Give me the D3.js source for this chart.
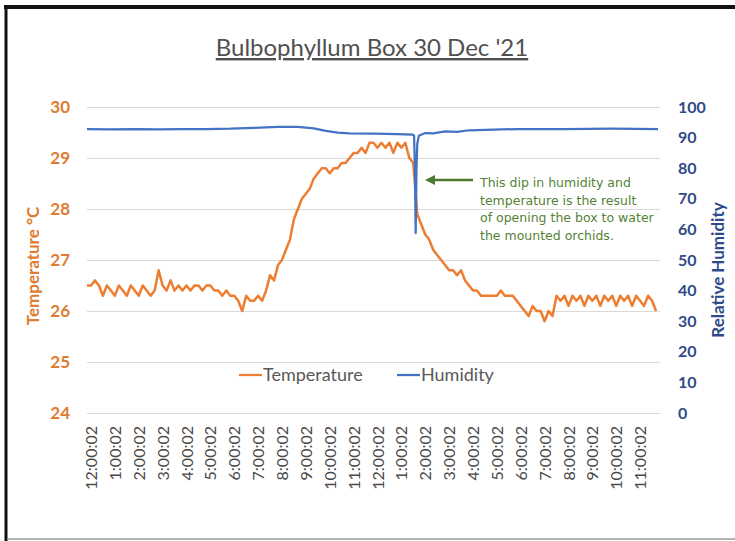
<!DOCTYPE html>
<html>
<head>
<meta charset="utf-8">
<script src="https://cdn.jsdelivr.net/npm/d3@7"></script>
<style>
  html, body { margin: 0; padding: 0; background: #ffffff; }
  svg { display: block; }
</style>
</head>
<body>
<svg id="drawing_region"></svg>
<script>
// hourly tick labels along the bottom
const hourLabels = ["12:00:02","1:00:02","2:00:02","3:00:02","4:00:02","5:00:02",
    "6:00:02","7:00:02","8:00:02","9:00:02","10:00:02","11:00:02",
    "12:00:02","1:00:02","2:00:02","3:00:02","4:00:02","5:00:02",
    "6:00:02","7:00:02","8:00:02","9:00:02","10:00:02","11:00:02"];

// temperature, one reading every 10 minutes starting at midnight
const temperature = [
    26.5, 26.5, 26.6, 26.5, 26.3, 26.5,
    26.4, 26.3, 26.5, 26.4, 26.3, 26.5,
    26.4, 26.3, 26.5, 26.4, 26.3, 26.4,
    26.8, 26.5, 26.4, 26.6, 26.4, 26.5,
    26.4, 26.5, 26.4, 26.5, 26.5, 26.4,
    26.5, 26.5, 26.4, 26.4, 26.3, 26.4,
    26.3, 26.3, 26.2, 26.0, 26.3, 26.2,
    26.2, 26.3, 26.2, 26.4, 26.7, 26.6,
    26.9, 27.0, 27.2, 27.4, 27.8, 28.0,
    28.2, 28.3, 28.4, 28.6, 28.7, 28.8,
    28.8, 28.7, 28.8, 28.8, 28.9, 28.9,
    29.0, 29.1, 29.1, 29.2, 29.1, 29.3,
    29.3, 29.2, 29.3, 29.2, 29.3, 29.1,
    29.3, 29.2, 29.3, 29.0, 28.9, 27.9,
    27.7, 27.5, 27.4, 27.2, 27.1, 27.0,
    26.9, 26.8, 26.8, 26.7, 26.8, 26.6,
    26.5, 26.4, 26.4, 26.3, 26.3, 26.3,
    26.3, 26.3, 26.4, 26.3, 26.3, 26.3,
    26.2, 26.1, 26.0, 25.9, 26.1, 26.0,
    26.0, 25.8, 26.0, 25.9, 26.3, 26.2,
    26.3, 26.1, 26.3, 26.2, 26.3, 26.1,
    26.3, 26.2, 26.3, 26.1, 26.3, 26.2,
    26.3, 26.1, 26.3, 26.2, 26.3, 26.1,
    26.3, 26.2, 26.1, 26.3, 26.2, 26.0
];

// humidity read at these minutes after midnight
const humidityMinutes = [0, 60, 120, 180, 240, 300, 360, 420, 480, 530, 570, 600, 630, 660,
    720, 780, 818, 822, 824, 826, 828, 830, 834, 850, 870, 900, 930, 960, 1000, 1080,
    1200, 1320, 1435];
const humidity = [92.8, 92.7, 92.8, 92.7, 92.8, 92.8, 92.9, 93.2, 93.5, 93.5, 93.0, 92.2, 91.6, 91.4,
    91.3, 91.1, 91.0, 90.6, 80.0, 58.8, 80.0, 88.0, 90.6, 91.5, 91.4, 92.0, 91.9, 92.4, 92.5, 92.8,
    92.8, 92.9, 92.8];

const tempTicks = [24, 25, 26, 27, 28, 29, 30];
const humTicks = [0, 10, 20, 30, 40, 50, 60, 70, 80, 90, 100];

const noteLines = ["This dip in humidity and", "temperature is the result",
    "of opening the box to water", "the mounted orchids."];

class DualAxisChart {

    constructor( config ) {
        this.config = {
            parent: config.parent,
            width: config.width || 735,
            height: config.height || 541,
            left: 87, right: 660, top: 107, bottom: 413
        };
        this.init();
    }

    init() {
        let self = this;
        self.svg = d3.select( self.config.parent )
            .attr( 'width', self.config.width )
            .attr( 'height', self.config.height );

        self.xscale = d3.scaleLinear()
            .domain( [0, 1440] )
            .range( [self.config.left, self.config.right] );
        self.tscale = d3.scaleLinear()
            .domain( [24, 30] )
            .range( [self.config.bottom, self.config.top] );
        self.hscale = d3.scaleLinear()
            .domain( [0, 100] )
            .range( [self.config.bottom, self.config.top] );
    }

    render() {
        let self = this;
        const orange = '#ED7D31', blue = '#4472C4';
        const orangeText = '#E07B2F', blueText = '#2F4A8A', grey = '#595959';

        // frame of the screenshot
        self.svg.append('rect').attr('x', 0).attr('y', 0)
            .attr('width', self.config.width).attr('height', self.config.height)
            .attr('fill', '#fff');
        self.svg.append('line').attr('x1', 4).attr('x2', 735).attr('y1', 7).attr('y2', 7)
            .attr('stroke', '#111').attr('stroke-width', 4);
        self.svg.append('line').attr('x1', 6).attr('x2', 6).attr('y1', 5).attr('y2', 541)
            .attr('stroke', '#111').attr('stroke-width', 3);
        self.svg.append('line').attr('x1', 8).attr('x2', 735).attr('y1', 539).attr('y2', 539)
            .attr('stroke', '#999').attr('stroke-width', 1.5);

        // title
        self.svg.append('text')
            .attr('x', 372).attr('y', 56)
            .attr('text-anchor', 'middle')
            .attr('font-family', 'Lato, sans-serif')
            .attr('font-size', 24)
            .attr('fill', '#505050')
            .style('text-decoration', 'underline')
            .text("Bulbophyllum Box 30 Dec '21");

        // left axis with grid
        const leftAxis = d3.axisLeft( self.tscale ).tickValues( tempTicks ).tickFormat( d3.format('d') )
            .tickSize( 0 ).tickPadding( 17 );
        const lg = self.svg.append('g').attr('transform', `translate(${self.config.left},0)`).call( leftAxis );
        lg.select('.domain').remove();
        lg.selectAll('text').attr('font-family', 'Lato, sans-serif').attr('font-size', 17)
            .attr('font-weight', 'bold').attr('fill', orangeText);
        lg.selectAll('.tick').append('line')
            .attr('x1', 0).attr('x2', self.config.right - self.config.left)
            .attr('stroke', '#D9D9D9').attr('stroke-width', 1);

        // right axis
        const rightAxis = d3.axisRight( self.hscale ).tickValues( humTicks ).tickSize( 0 ).tickPadding( 18 );
        const rg = self.svg.append('g').attr('transform', `translate(${self.config.right},0)`).call( rightAxis );
        rg.select('.domain').remove();
        rg.selectAll('text').attr('font-family', 'Lato, sans-serif').attr('font-size', 16)
            .attr('font-weight', 'bold').attr('fill', blueText);

        // bottom axis with hour labels
        const xAxis = d3.axisBottom( self.xscale )
            .tickValues( d3.range( hourLabels.length ).map( i => i * 60 ) )
            .tickFormat( (d, i) => hourLabels[i] )
            .tickSize( 0 );
        const xg = self.svg.append('g').attr('transform', `translate(0,${self.config.bottom})`).call( xAxis );
        xg.select('.domain').attr('stroke', '#D9D9D9');
        xg.selectAll('text')
            .attr('font-family', 'Lato, sans-serif').attr('font-size', 16)
            .attr('fill', '#4a4a4a')
            .attr('text-anchor', 'end')
            .attr('transform', 'rotate(-90)')
            .attr('x', -13).attr('y', 4).attr('dy', '0.35em');

        // axis titles
        self.svg.append('text')
            .attr('transform', 'translate(39,266) rotate(-90)')
            .attr('text-anchor', 'middle')
            .attr('font-family', 'Lato, sans-serif').attr('font-size', 17).attr('font-weight', 'bold')
            .attr('fill', orangeText)
            .text('Temperature °C');
        self.svg.append('text')
            .attr('transform', 'translate(724,270) rotate(-90)')
            .attr('text-anchor', 'middle')
            .attr('font-family', 'Lato, sans-serif').attr('font-size', 17).attr('font-weight', 'bold')
            .attr('fill', blueText)
            .text('Relative Humidity');

        // series
        const tline = d3.line()
            .x( (d, i) => self.xscale( i * 10 ) )
            .y( d => self.tscale( d ) );
        self.svg.append('path')
            .attr('d', tline( temperature ))
            .attr('fill', 'none').attr('stroke', orange).attr('stroke-width', 2.5)
            .attr('stroke-linejoin', 'round');

        const hline = d3.line()
            .x( (d, i) => self.xscale( humidityMinutes[i] ) )
            .y( d => self.hscale( d ) );
        self.svg.append('path')
            .attr('d', hline( humidity ))
            .attr('fill', 'none').attr('stroke', blue).attr('stroke-width', 2.25)
            .attr('stroke-linejoin', 'round');

        // legend
        const legend = [
            { name: 'Temperature', color: orange, x: 239 },
            { name: 'Humidity', color: blue, x: 397 }
        ];
        const lgd = self.svg.append('g').selectAll('g').data( legend ).enter().append('g')
            .attr('transform', d => `translate(${d.x},375)`);
        lgd.append('line').attr('x1', 0).attr('x2', 23)
            .attr('stroke', d => d.color).attr('stroke-width', 2.25);
        lgd.append('text').attr('x', 24).attr('dy', '0.35em')
            .attr('font-family', 'Lato, sans-serif').attr('font-size', 18)
            .attr('fill', grey)
            .text( d => d.name );

        // annotation
        const green = '#548235';
        self.svg.append('defs').append('marker')
            .attr('id', 'arrowhead').attr('viewBox', '0 0 10 10')
            .attr('refX', 2).attr('refY', 5)
            .attr('markerWidth', 4).attr('markerHeight', 4)
            .attr('orient', 'auto-start-reverse')
            .append('path').attr('d', 'M0,0 L10,5 L0,10 z').attr('fill', '#4E7A2E');
        self.svg.append('line')
            .attr('x1', 473).attr('x2', 433).attr('y1', 180).attr('y2', 180)
            .attr('stroke', '#4E7A2E').attr('stroke-width', 2.5)
            .attr('marker-end', 'url(#arrowhead)');
        self.svg.append('g').selectAll('text').data( noteLines ).enter().append('text')
            .attr('x', 480).attr('y', (d, i) => 187 + i * 17.5)
            .attr('font-family', '"DejaVu Sans", sans-serif').attr('font-size', 12.5)
            .attr('fill', green)
            .text( d => d );
    }
}

const chart = new DualAxisChart( { parent: '#drawing_region', width: 735, height: 541 } );
chart.render();
</script>
</body>
</html>
